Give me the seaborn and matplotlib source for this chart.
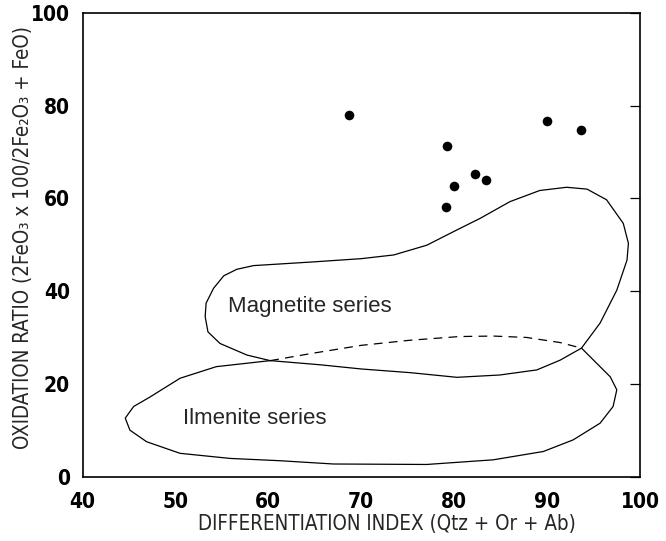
import numpy as np
import pandas as pd
import matplotlib
matplotlib.use('Agg')
import matplotlib.pyplot as plt
from matplotlib import font_manager
import seaborn as sns

# sample points (differentiation index, oxidation ratio)
di_points = [68.7, 79.2, 82.2, 83.4, 80.0, 79.1, 90.0, 93.6]
ox_points = [77.9, 71.3, 65.2, 64.0, 62.7, 58.1, 76.8, 74.8]

# magnetite series field outline (closed)
mag_x = [60.2, 57.7, 54.8, 53.5, 53.2, 53.3, 54.1, 55.2, 56.6, 58.4, 64.85, 70.0,
         73.5, 77.05, 79.9, 82.8, 86.0, 89.2, 92.1, 94.3, 96.4, 98.2, 98.75, 98.6,
         97.5, 95.7, 93.7, 91.4, 88.9, 84.9, 80.3, 75.3, 70.0, 65.6, 60.2]
mag_y = [25.0, 26.2, 28.7, 31.2, 34.5, 37.4, 40.6, 43.3, 44.7, 45.5, 46.3, 47.0,
         47.8, 49.9, 52.8, 55.7, 59.3, 61.7, 62.4, 62.0, 59.7, 54.6, 50.3, 46.7,
         40.2, 33.1, 27.7, 25.1, 23.0, 21.9, 21.4, 22.4, 23.2, 24.1, 25.0]

# ilmenite series field outline (solid part)
ilm_x = [93.7, 95.0, 96.8, 97.5, 97.1, 95.7, 92.8, 89.6, 84.2, 77.05, 67.0, 61.3,
         55.9, 50.5, 46.9, 45.1, 44.6, 45.5, 47.3, 50.5, 54.4, 60.2]
ilm_y = [27.7, 25.1, 21.5, 18.7, 15.1, 11.5, 7.9, 5.4, 3.6, 2.6, 2.7, 3.4,
         3.9, 5.0, 7.5, 10.0, 12.6, 15.1, 17.2, 21.2, 23.7, 25.0]

# ilmenite boundary hidden inside magnetite field (dashed)
ilm_dash_x = [60.2, 64.8, 70.0, 75.25, 80.6, 84.2, 87.8, 91.4, 93.7]
ilm_dash_y = [25.0, 26.6, 28.3, 29.4, 30.2, 30.3, 30.0, 28.9, 27.7]

x_ticks = [40, 50, 60, 70, 80, 90, 100]
y_ticks = [0, 20, 40, 60, 80, 100]


def find_condensed(bold=False):
    # look for a narrow / condensed sans face among installed fonts
    for f in font_manager.fontManager.ttflist:
        nm = f.name + ' ' + f.fname
        narrow = ('Narrow' in nm or 'Condensed' in nm or f.stretch in ('condensed', 'semi-condensed'))
        if not narrow or 'Mono' in nm or 'Serif' in nm or 'Oblique' in nm or 'Italic' in nm:
            continue
        is_bold = f.weight in ('bold', 700) or 'Bold' in f.fname
        if is_bold == bold:
            return f.fname
    return None


sns.set_style('white')
plt.rcParams['font.family'] = ['Liberation Sans', 'DejaVu Sans']

cond_reg = find_condensed(False)
cond_bold = find_condensed(True)
if cond_reg:
    label_fp = font_manager.FontProperties(fname=cond_reg, size=14.8)
else:
    label_fp = font_manager.FontProperties(family='Liberation Sans', size=14)
if cond_bold:
    tick_fp = font_manager.FontProperties(fname=cond_bold, size=15)
else:
    tick_fp = font_manager.FontProperties(family='Liberation Sans', weight='bold', size=13.5)

fig = plt.figure(figsize=(6.66, 5.41), dpi=100)
ax = fig.add_axes([0.1239, 0.1192, 0.8371, 0.8568])

df_pts = pd.DataFrame({'di': di_points, 'ox': ox_points})
sns.scatterplot(data=df_pts, x='di', y='ox', ax=ax, color='black', s=48,
                edgecolor='black', linewidth=0, zorder=3)

ax.plot(mag_x, mag_y, color='black', lw=0.9)
ax.plot(ilm_x, ilm_y, color='black', lw=0.9)
ax.plot(ilm_dash_x, ilm_dash_y, color='black', lw=0.9, dashes=(7, 5))

ax.text(55.7, 36.6, 'Magnetite series', family='Liberation Sans', fontsize=16,
        va='center', ha='left')
ax.text(50.85, 12.6, 'Ilmenite series', family='Liberation Sans', fontsize=16,
        va='center', ha='left')

ax.set_xlim(40, 100)
ax.set_ylim(0, 100)
ax.set_xticks(x_ticks)
ax.set_yticks(y_ticks)
ax.tick_params(direction='in', length=7, width=0.9, right=True, top=False,
               colors='black')
ax.tick_params(axis='x', pad=11)
ax.tick_params(axis='y', pad=9)
for lbl in ax.get_xticklabels() + ax.get_yticklabels():
    lbl.set_fontproperties(tick_fp)

for sp in ax.spines.values():
    sp.set_color('black')
    sp.set_linewidth(1.2)

ax.set_xlabel('DIFFERENTIATION INDEX (Qtz + Or + Ab)', fontproperties=label_fp)
ylab = 'OXIDATION RATIO (2FeO\u2083 x 100/2Fe\u2082O\u2083 + FeO)'
ax.set_ylabel(ylab, fontproperties=label_fp)
ax.xaxis.set_label_coords(0.546, -0.081)
ax.yaxis.set_label_coords(-0.089, 0.515)

fig.savefig('out.png', dpi=100)
